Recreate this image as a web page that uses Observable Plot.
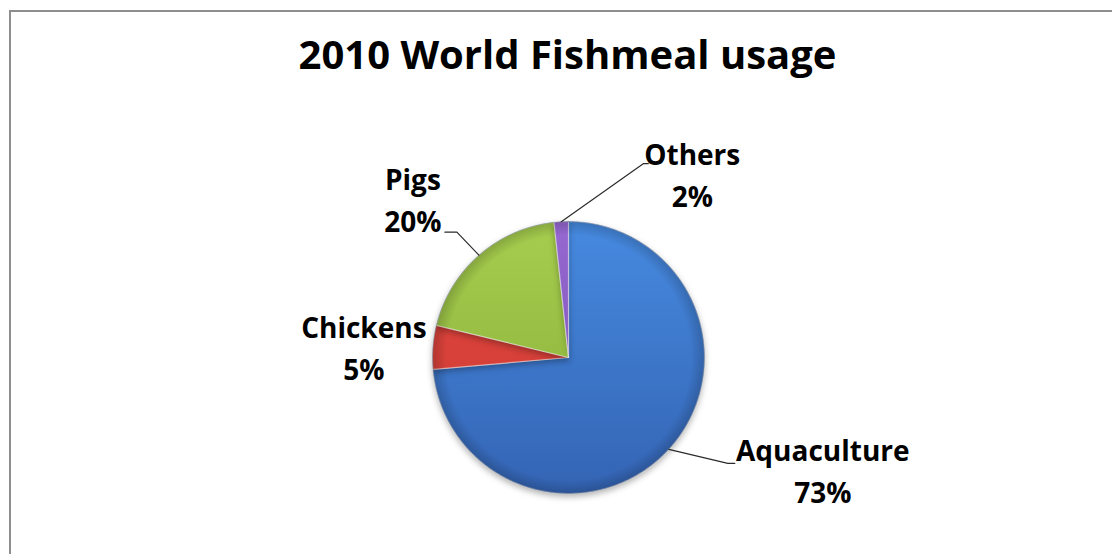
<!DOCTYPE html>
<html><head><meta charset="utf-8">
<script src="https://cdn.jsdelivr.net/npm/d3@7"></script>
<script src="https://cdn.jsdelivr.net/npm/@observablehq/plot@0.6"></script>
<style>
html,body{margin:0;padding:0;background:#fff;}
#wrap{position:relative;width:1112px;height:554px;overflow:hidden;background:#fff;}
#frame{position:absolute;left:9px;top:10px;width:1200px;height:600px;border-top:2px solid #8e8e8e;border-left:2px solid #8e8e8e;}
#chart{position:absolute;left:0;top:0;}
</style></head><body>
<div id="wrap"><div id="frame"></div><div id="chart"></div></div>
<script>
// ---- data ----
const title = "2010 World Fishmeal usage";
const categories = ["Aquaculture", "Chickens", "Pigs", "Others"];
const values = [73.6, 5.2, 19.5, 1.7];
const percentLabels = ["73%", "5%", "20%", "2%"];

// ---- styles / layout ----
const gradTop = ["#468ae0", "#e8473f", "#a6cd4e", "#9668d2"];
const gradBottom = ["#3464b4", "#c53a34", "#87ae38", "#7650ad"];
// label block offsets from the slice's rim anchor (pixels, y down)
const labelOffsets = [[154, 24], [-69, 3], [-66, -53], [131, -45]];
// leader line vertices relative to the rim anchor (pixels, y down)
const leaderPaths = [[[0, 0], [59, 14], [66, 14]], null, [[0, 0], [-22, -23], [-34, -23]], [[0, 0], [82, -58], [87, -58]]];

const W = 1112, H = 554;
const R = 136;              // pixels per unit radius
const cx = 568, cy = 357;   // pie centre in pixels
const xDomain = [-cx / R, (W - cx) / R];
const yDomain = [-(H - cy) / R, cy / R];

const data = categories.map((c, i) => ({cat: c, value: values[i], pct: percentLabels[i], i}));
const arcs = d3.pie().sort(null).value(d => d.value)(data);

// slice polygons in unit-radius coordinates
const slicePts = arcs.flatMap(a => {
  const n = Math.max(4, Math.ceil((a.endAngle - a.startAngle) / 0.01));
  const pts = [{x: 0, y: 0, cat: a.data.cat}];
  for (let k = 0; k <= n; k++) {
    const t = a.startAngle + (a.endAngle - a.startAngle) * k / n;
    pts.push({x: Math.sin(t), y: Math.cos(t), cat: a.data.cat});
  }
  pts.push({x: 0, y: 0, cat: a.data.cat});
  return pts;
});
const rimPts = d3.range(0, 361).map(d => ({x: Math.sin(d * Math.PI / 180), y: Math.cos(d * Math.PI / 180), cat: "rim"}));

const anchors = arcs.map(a => {
  const m = (a.startAngle + a.endAngle) / 2;
  return {x: Math.sin(m), y: Math.cos(m)};
});
const labels = arcs.map((a, i) => ({
  cat: a.data.cat, pct: a.data.pct,
  x: anchors[i].x + labelOffsets[i][0] / R,
  y: anchors[i].y - labelOffsets[i][1] / R
}));
const leaders = arcs.flatMap((a, i) => leaderPaths[i] ? leaderPaths[i].map(p => ({
  cat: a.data.cat, x: anchors[i].x + p[0] / R, y: anchors[i].y - p[1] / R
})) : []);

const font = "'Open Sans', 'DejaVu Sans', sans-serif";

const svg = Plot.plot({
  width: W, height: H,
  margin: 0,
  x: {domain: xDomain, axis: null},
  y: {domain: yDomain, axis: null},
  color: {type: "ordinal", domain: [...categories, "rim"], range: [...categories.map((c, i) => `url(#grad${i})`), "url(#rimShade)"]},
  style: {background: "transparent", fontFamily: font, overflow: "visible"},
  marks: [
    Plot.line(slicePts, {x: "x", y: "y", z: "cat", fill: "cat", stroke: "rgba(255,255,255,0.45)", strokeWidth: 1.2, curve: "linear"}),
    Plot.line(rimPts, {x: "x", y: "y", z: "cat", fill: "cat", stroke: "rgba(30,50,90,0.35)", strokeWidth: 0.8, curve: "linear"}),
    Plot.line(leaders, {x: "x", y: "y", z: "cat", stroke: "#2b2b2b", strokeWidth: 1.2, curve: "linear"}),
    Plot.text(labels, {x: "x", y: "y", text: "cat", dy: -21, fontSize: 28, fontWeight: 700, fill: "#000", fontFamily: font}),
    Plot.text(labels, {x: "x", y: "y", text: "pct", dy: 21, fontSize: 28, fontWeight: 700, fill: "#000", fontFamily: font}),
    Plot.text([title], {frameAnchor: "top", text: d => d, lineAnchor: "top", dy: 40, dx: 11, fontSize: 40, fontWeight: 700, fill: "#000", fontFamily: font})
  ]
});

// gradients derived from the plot's own scales
const ys = svg.scale("y"), xs = svg.scale("x");
const topPx = ys.apply(1), botPx = ys.apply(-1);
const cxPx = xs.apply(0), cyPx = ys.apply(0), rPx = xs.apply(1) - xs.apply(0);
const defs = d3.select(svg).insert("defs", ":first-child");
categories.forEach((c, i) => {
  const g = defs.append("linearGradient").attr("id", `grad${i}`).attr("gradientUnits", "userSpaceOnUse")
    .attr("x1", 0).attr("x2", 0).attr("y1", topPx).attr("y2", botPx);
  g.append("stop").attr("offset", "0%").attr("stop-color", gradTop[i]);
  g.append("stop").attr("offset", "100%").attr("stop-color", gradBottom[i]);
});
const rg = defs.append("radialGradient").attr("id", "rimShade").attr("gradientUnits", "userSpaceOnUse")
  .attr("cx", cxPx).attr("cy", cyPx).attr("r", rPx);
rg.append("stop").attr("offset", "0.9").attr("stop-color", "#000").attr("stop-opacity", 0);
rg.append("stop").attr("offset", "1").attr("stop-color", "#000").attr("stop-opacity", 0.18);
d3.select(svg).selectAll("path").filter(function() {
  return (this.getAttribute("fill") || "").startsWith("url(#grad");
}).style("filter", "drop-shadow(0px 3px 3px rgba(0,0,0,0.3))");

document.getElementById("chart").appendChild(svg);
</script>
</body></html>
